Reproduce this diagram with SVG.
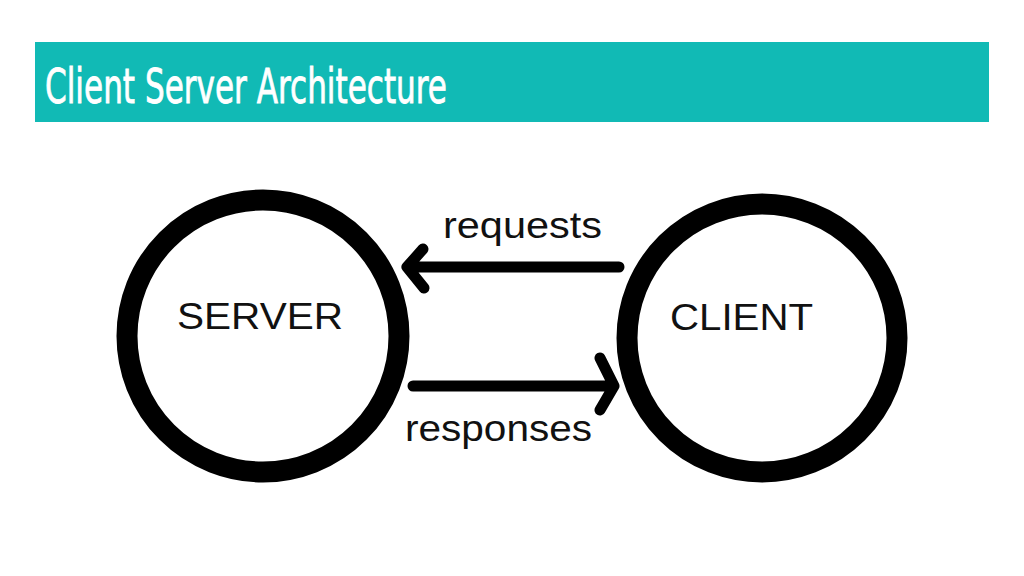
<svg xmlns="http://www.w3.org/2000/svg" width="1024" height="576" viewBox="0 0 1024 576">
<style>
.ring{fill:#fff;stroke:#000;stroke-width:21}
.node{font-family:"Liberation Sans",Arial,sans-serif;font-size:36px;fill:#111}
.lbl{font-family:"Liberation Sans",Arial,sans-serif;font-size:36px;fill:#111}
.conn{fill:none;stroke:#000;stroke-width:11;stroke-linecap:round;stroke-linejoin:round}
</style>
<rect width="1024" height="576" fill="#fff"/>
<g id="header">
<rect x="35" y="42" width="954" height="80" fill="#11bab5"/>
<text x="45" y="103" font-family="'DejaVu Sans Condensed','DejaVu Sans',sans-serif" font-size="48" font-weight="normal" fill="#fff" stroke="#fff" stroke-width="0.8" textLength="402" lengthAdjust="spacingAndGlyphs">Client Server Architecture</text>
</g>
<g id="server">
<ellipse class="ring" cx="263" cy="336" rx="136" ry="136"/>
<text class="node" x="177" y="329" textLength="166" lengthAdjust="spacingAndGlyphs">SERVER</text>
</g>
<g id="client">
<ellipse class="ring" cx="762" cy="338" rx="135" ry="134"/>
<text class="node" x="670" y="330" textLength="143" lengthAdjust="spacingAndGlyphs">CLIENT</text>
</g>
<g id="connectors">
<path class="conn" d="M619 267 H407 M423 249 L407 267 L424 288"/>
<path class="conn" d="M413 386 H613 M600 358 L614 386 L600 410"/>
<text class="lbl" x="443" y="238" textLength="159" lengthAdjust="spacingAndGlyphs">requests</text>
<text class="lbl" x="405" y="441" textLength="187" lengthAdjust="spacingAndGlyphs">responses</text>
</g>
</svg>
